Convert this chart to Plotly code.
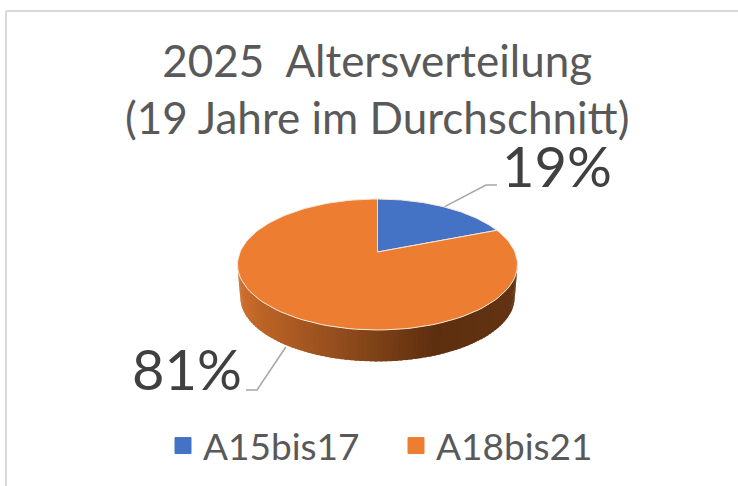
import math
import plotly.graph_objects as go

categories = ["A15bis17", "A18bis21"]
values = [19, 81]
colors = ["#4472C4", "#ED7D31"]
title_lines = ["2025  Altersverteilung", "(19 Jahre im Durchschnitt)"]
FONT = "Lato"

# pixel-based projection of the tilted disc (perspective)
CX, CY = 377.5, 252.0
A, B, K = 137.4, 63.1, 0.1908
DEPTH, SHRINK = 33.0, 0.98


def rim(t, depth=0.0, s=1.0):
    w = 1 + K * math.cos(t)
    return (CX + s * A * math.sin(t) / w, CY - s * B * math.cos(t) / w + depth)


def arc(t0, t1, depth=0.0, s=1.0, n=120):
    return [rim(t0 + (t1 - t0) * i / n, depth, s) for i in range(n + 1)]


def mix(c0, c1, f):
    return "rgb(%d,%d,%d)" % tuple(round(a + (b - a) * f) for a, b in zip(c0, c1))


def side_color(x):
    stops = [(238, (204, 112, 46)), (262, (186, 98, 38)), (330, (150, 79, 30)),
             (433, (94, 47, 15)), (518, (98, 52, 20))]
    for (x0, c0), (x1, c1) in zip(stops, stops[1:]):
        if x <= x1:
            return mix(c0, c1, max(0, (x - x0) / (x1 - x0)))
    return mix(stops[-1][1], stops[-1][1], 0)


total = sum(values)
angles = [0.0]
for v in values:
    angles.append(angles[-1] + 2 * math.pi * v / total)

fig = go.Figure()

# leader lines drawn behind the disc
mid = [(angles[i] + angles[i + 1]) / 2 for i in range(2)]
p0 = rim(mid[0])
p1 = rim(mid[1], DEPTH)
for xs, ys in [([p0[0], 486, 497], [p0[1], 185, 185]), ([p1[0], 257, 246], [p1[1], 390, 390])]:
    fig.add_trace(go.Scatter(x=xs, y=ys, mode="lines", line=dict(color="#A6A6A6", width=1.5),
                             showlegend=False, hoverinfo="skip"))

# cylinder wall: narrow strips with a horizontal gradient
t_left, t_right = 2 * math.pi - math.acos(-K), math.acos(-K)
N = 90
for i in range(N):
    a = t_right + (t_left - t_right) * i / N
    b = t_right + (t_left - t_right) * (i + 1.6) / N
    b = min(b, t_left)
    pts = [rim(a), rim(b), rim(b, DEPTH, SHRINK), rim(a, DEPTH, SHRINK), rim(a)]
    col = side_color((pts[0][0] + pts[1][0]) / 2)
    fig.add_trace(go.Scatter(x=[p[0] for p in pts], y=[p[1] for p in pts], mode="lines",
                             fill="toself", fillcolor=col, line=dict(color=col, width=0),
                             showlegend=False, hoverinfo="skip"))

# top faces of the slices
for i, c in enumerate(colors):
    pts = [(CX, CY)] + arc(angles[i], angles[i + 1]) + [(CX, CY)]
    fig.add_trace(go.Scatter(x=[p[0] for p in pts], y=[p[1] for p in pts], mode="lines",
                             fill="toself", fillcolor=c, line=dict(color="#F6E6DA", width=1),
                             name=categories[i], showlegend=False, hoverinfo="skip"))

# legend entries
for name, c in zip(categories, colors):
    fig.add_trace(go.Scatter(x=[None], y=[None], mode="markers", name=name,
                             marker=dict(symbol="square", size=16, color=c, line=dict(color=c, width=1))))

title_text = "<br>".join(title_lines)
annots = [
    dict(x=377, y=88, text=title_text, showarrow=False, xanchor="center", yanchor="middle",
         font=dict(family=FONT, size=44, color="#595959")),
    dict(x=557, y=165, text=f"{round(100 * values[0] / total)}%", showarrow=False, xanchor="center",
         yanchor="middle", font=dict(family=FONT, size=56, color="#404040")),
    dict(x=187, y=368, text=f"{round(100 * values[1] / total)}%", showarrow=False, xanchor="center",
         yanchor="middle", font=dict(family=FONT, size=56, color="#404040")),
]

fig.update_layout(
    width=738, height=486, autosize=False,
    margin=dict(l=0, r=0, t=0, b=0),
    paper_bgcolor="white", plot_bgcolor="white",
    xaxis=dict(range=[0, 738], visible=False, fixedrange=True),
    yaxis=dict(range=[486, 0], visible=False, fixedrange=True),
    annotations=annots,
    legend=dict(orientation="h", x=0.5366, xanchor="center", y=0.0185, yanchor="bottom",
                itemwidth=30, entrywidth=188, entrywidthmode="pixels",
                font=dict(family=FONT, size=37, color="#595959"), bgcolor="rgba(0,0,0,0)"),
    shapes=[
        dict(type="line", x0=6, x1=6, y0=11, y1=486, line=dict(color="#D9D9D9", width=2)),
        dict(type="line", x0=6, x1=738, y0=11, y1=11, line=dict(color="#D9D9D9", width=2)),
    ],
    showlegend=True,
)
fig.write_html("out.html", config={"displayModeBar": False},
               post_script="document.body.style.margin='0';document.documentElement.style.overflow='hidden';")
